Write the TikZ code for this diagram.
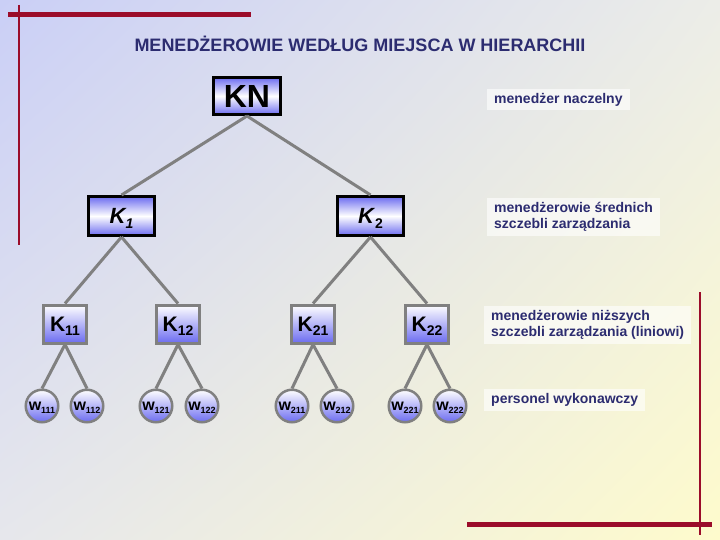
\documentclass[tikz,border=0pt]{standalone}
\usepackage{fontspec}
\setmainfont{Liberation Sans}
\usepackage{tikz}
\usetikzlibrary{shadings}
\usepackage{xcolor}

\definecolor{navyink}{RGB}{44,44,112}
\definecolor{barred}{RGB}{155,12,42}
\definecolor{boxblue}{RGB}{108,108,240}
\definecolor{linkgray}{RGB}{128,128,128}
\definecolor{bgtl}{RGB}{202,207,246}
\definecolor{bgtr}{RGB}{236,237,232}
\definecolor{bgbl}{RGB}{230,231,236}
\definecolor{bgbr}{RGB}{254,251,204}

\newcommand{\lowidx}[2]{\smash{\raisebox{-#1}{#2}}}

\begin{document}
\begin{tikzpicture}[x=1pt,y=-1pt,line cap=butt,
  headbox/.style={draw=black,line width=3pt,inner sep=0pt,top color=boxblue,bottom color=boxblue,middle color=white},
  linebox/.style={draw=linkgray,line width=3pt,inner sep=0pt,minimum width=43pt,minimum height=38pt,top color=white,bottom color=boxblue,font=\fontsize{21}{21}\selectfont\bfseries},
  worker/.style={circle,draw=linkgray,line width=2.5pt,inner sep=0pt,minimum size=32.5pt,top color=white,bottom color=boxblue,font=\fontsize{16}{16}\selectfont\bfseries},
  link/.style={draw=linkgray,line width=3pt},
  tag/.style={anchor=west,fill=white,fill opacity=0.6,text opacity=1,text=navyink,align=left,inner xsep=7pt,inner ysep=4pt,font=\fontsize{14}{16}\selectfont\bfseries},
  redbar/.style={draw=barred,line width=5pt}]
% background
\shade[upper left=bgtl,upper right=bgtr,lower left=bgbl,lower right=bgbr] (0,0) rectangle (720,540);
\useasboundingbox (0,0) rectangle (720,540);
% frame bars
\draw[redbar] (8,14.5) -- (251,14.5);
\draw[barred,line width=1.2pt] (19,5) -- (19,245);
\draw[redbar] (467,524.5) -- (712,524.5);
\draw[barred,line width=1.2pt] (700,292) -- (700,535);
% title
\node[text=navyink,font=\fontsize{18}{18}\selectfont\bfseries] (title) at (360,44) {MENEDŻEROWIE WEDŁUG MIEJSCA W HIERARCHII};
% top
\node[headbox,minimum width=67pt,minimum height=37pt,font=\fontsize{32}{32}\selectfont\bfseries] (KN) at (247,96) {KN};
% middle
\node[headbox,minimum width=66pt,minimum height=39pt,font=\fontsize{22}{22}\selectfont\bfseries\itshape] (K1) at (121.5,216) {K\lowidx{5pt}{\fontsize{14}{14}\selectfont 1}};
\node[headbox,minimum width=66pt,minimum height=39pt,font=\fontsize{22}{22}\selectfont\bfseries] (K2) at (370.5,216) {\textit{K}\lowidx{5pt}{\fontsize{14}{14}\selectfont 2}};
% lower
\node[linebox] (K11) at (65,324) {K\lowidx{4pt}{\fontsize{14}{14}\selectfont 11}};
\node[linebox] (K12) at (178,324) {K\lowidx{4pt}{\fontsize{14}{14}\selectfont 12}};
\node[linebox] (K21) at (313,324) {K\lowidx{4pt}{\fontsize{14}{14}\selectfont 21}};
\node[linebox] (K22) at (427,324) {K\lowidx{4pt}{\fontsize{14}{14}\selectfont 22}};
% staff
\node[worker] (w111) at (42,406) {w\lowidx{3pt}{\fontsize{9}{9}\selectfont 111}};
\node[worker] (w112) at (87,406) {w\lowidx{3pt}{\fontsize{9}{9}\selectfont 112}};
\node[worker] (w121) at (156,406) {w\lowidx{3pt}{\fontsize{9}{9}\selectfont 121}};
\node[worker] (w122) at (202,406) {w\lowidx{3pt}{\fontsize{9}{9}\selectfont 122}};
\node[worker] (w211) at (292,406) {w\lowidx{3pt}{\fontsize{9}{9}\selectfont 211}};
\node[worker] (w212) at (337,406) {w\lowidx{3pt}{\fontsize{9}{9}\selectfont 212}};
\node[worker] (w221) at (405,406) {w\lowidx{3pt}{\fontsize{9}{9}\selectfont 221}};
\node[worker] (w222) at (450,406) {w\lowidx{3pt}{\fontsize{9}{9}\selectfont 222}};
% links
\draw[link] (KN.south) -- (K1.north);
\draw[link] (KN.south) -- (K2.north);
\draw[link] (K1.south) -- (K11.north);
\draw[link] (K1.south) -- (K12.north);
\draw[link] (K2.south) -- (K21.north);
\draw[link] (K2.south) -- (K22.north);
\draw[link] (K11.south) -- (w111.north);
\draw[link] (K11.south) -- (w112.north);
\draw[link] (K12.south) -- (w121.north);
\draw[link] (K12.south) -- (w122.north);
\draw[link] (K21.south) -- (w211.north);
\draw[link] (K21.south) -- (w212.north);
\draw[link] (K22.south) -- (w221.north);
\draw[link] (K22.south) -- (w222.north);
% level labels
\node[tag] (lab1) at (487,99.5) {menedżer naczelny};
\node[tag] (lab2) at (487,217) {menedżerowie średnich\\szczebli zarządzania};
\node[tag] (lab3) at (484,325) {menedżerowie niższych\\szczebli zarządzania (liniowi)};
\node[tag] (lab4) at (484,400) {personel wykonawczy};
\end{tikzpicture}
\end{document}
